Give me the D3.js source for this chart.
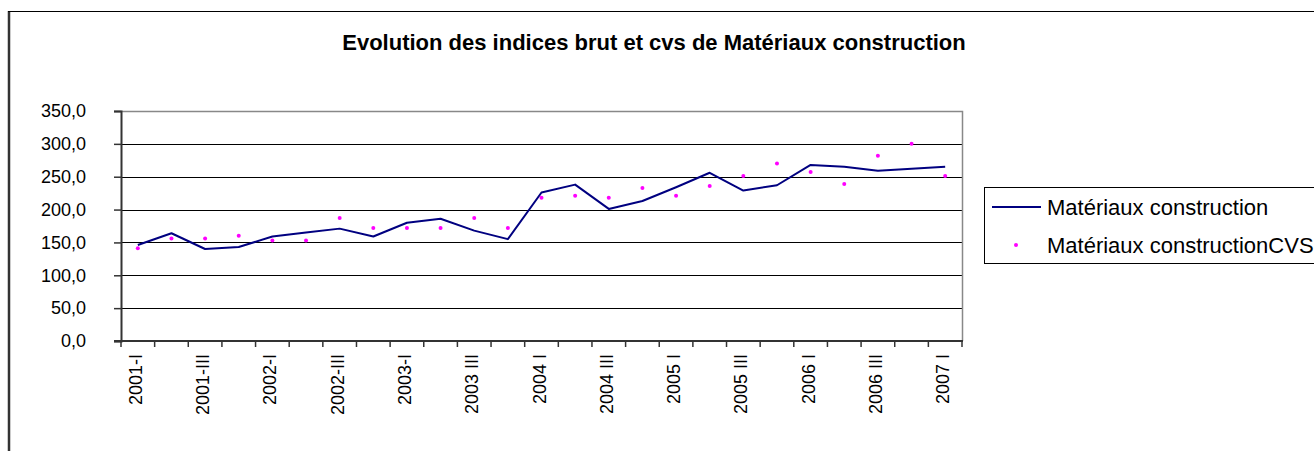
<!DOCTYPE html>
<html>
<head>
<meta charset="utf-8">
<script src="https://cdn.jsdelivr.net/npm/d3@7"></script>
<style>
  html, body { margin: 0; padding: 0; background: #fff; }
  svg { display: block; }
  text { font-family: "Liberation Sans", Arial, sans-serif; }
</style>
</head>
<body>
<svg id="chart" width="1314" height="451"></svg>
<script>
// ---- data ----
const categories = [
  "2001-I","2001-II","2001-III","2001-IV",
  "2002-I","2002-II","2002-III","2002-IV",
  "2003-I","2003 II","2003 III","2003 IV",
  "2004 I","2004 II","2004 III","2004 IV",
  "2005 I","2005 II","2005 III","2005 IV",
  "2006 I","2006 II","2006 III","2006 IV",
  "2007 I"
];
const brut = [146, 164, 140, 143, 159, 165, 171, 159, 180, 186, 168, 155,
              226, 238, 201, 213, 234, 256, 229, 237, 268, 265, 259, 262, 265];
const cvs  = [141, 156, 156, 160, 153, 153, 187, 172, 172, 172, 187, 172,
              218, 221, 218, 233, 221, 236, 251, 270, 257, 239, 282, 300, 251];
const yTicks = [0, 50, 100, 150, 200, 250, 300, 350];
const seriesNames = ["Matériaux construction", "Matériaux constructionCVS"];
const title = "Evolution des indices brut et cvs de Matériaux construction";

// ---- layout ----
const svg = d3.select("#chart");
const plot = { left: 121, right: 962, top: 111, bottom: 341 };

// outer chart frame
svg.append("line").attr("x1", 9).attr("x2", 9).attr("y1", 11).attr("y2", 451)
  .attr("stroke", "#333").attr("stroke-width", 2.5);
svg.append("line").attr("x1", 8).attr("x2", 1314).attr("y1", 11.5).attr("y2", 11.5)
  .attr("stroke", "#000").attr("stroke-width", 1);

svg.append("text").attr("x", 654).attr("y", 50).attr("text-anchor", "middle")
  .attr("font-weight", "bold").attr("font-size", 22).text(title);

const x = d3.scaleBand().domain(categories).range([plot.left, plot.right]).padding(0);
const y = d3.scaleLinear().domain([0, 350]).range([plot.bottom, plot.top]);

// gridlines
svg.append("g").selectAll("line").data(yTicks.filter(d => d > 0 && d < 350)).join("line")
  .attr("x1", plot.left).attr("x2", plot.right)
  .attr("y1", d => Math.round(y(d)) + 0.5).attr("y2", d => Math.round(y(d)) + 0.5)
  .attr("stroke", "#000").attr("stroke-width", 1);

// plot border top/right (gray)
svg.append("path")
  .attr("d", `M${plot.left},${plot.top + 0.5}H${plot.right + 0.5}V${plot.bottom}`)
  .attr("fill", "none").attr("stroke", "#888").attr("stroke-width", 1.5);

// y axis
const yAxis = d3.axisLeft(y).tickValues(yTicks).tickSize(7).tickPadding(28)
  .tickFormat(d => d3.format(".1f")(d).replace(".", ","));
const gy = svg.append("g").attr("transform", `translate(${plot.left},0)`).call(yAxis);
gy.select(".domain").attr("stroke", "#333").attr("stroke-width", 2);
gy.selectAll(".tick line").attr("stroke", "#333").attr("stroke-width", 1.5);
gy.selectAll(".tick text").attr("font-size", 18).attr("fill", "#000")
  .attr("font-family", "'Liberation Sans', Arial, sans-serif");

// x axis: ticks at band boundaries
const boundaries = d3.range(categories.length + 1).map(i => plot.left + i * x.bandwidth());
const gx = svg.append("g");
gx.append("line").attr("x1", plot.left - 7).attr("x2", plot.right + 1)
  .attr("y1", plot.bottom).attr("y2", plot.bottom)
  .attr("stroke", "#333").attr("stroke-width", 2);
gx.selectAll("line.tk").data(boundaries).join("line").attr("class", "tk")
  .attr("x1", d => d).attr("x2", d => d)
  .attr("y1", plot.bottom).attr("y2", plot.bottom + 6)
  .attr("stroke", "#333").attr("stroke-width", 1.5);
gx.selectAll("text").data(categories.filter((d, i) => i % 2 === 0)).join("text")
  .attr("transform", d => `translate(${x(d) + x.bandwidth() / 2 + 4},${plot.bottom + 13}) rotate(-90)`)
  .attr("text-anchor", "end").attr("font-size", 18).attr("fill", "#000")
  .text(d => d);

// brut line
const line = d3.line().x((d, i) => x(categories[i]) + x.bandwidth() / 2).y(d => y(d));
svg.append("path").datum(brut).attr("d", line)
  .attr("fill", "none").attr("stroke", "#000080").attr("stroke-width", 2)
  .attr("stroke-linejoin", "round");

// cvs dots
svg.append("g").selectAll("circle").data(cvs).join("circle")
  .attr("cx", (d, i) => x(categories[i]) + x.bandwidth() / 2)
  .attr("cy", d => y(d)).attr("r", 2).attr("fill", "#FF00FF");

// legend
const lg = svg.append("g");
lg.append("rect").attr("x", 984.5).attr("y", 187.5).attr("width", 340).attr("height", 76)
  .attr("fill", "#fff").attr("stroke", "#000").attr("stroke-width", 1);
lg.append("line").attr("x1", 992).attr("x2", 1041).attr("y1", 207).attr("y2", 207)
  .attr("stroke", "#000080").attr("stroke-width", 2);
lg.append("circle").attr("cx", 1016).attr("cy", 245).attr("r", 2).attr("fill", "#FF00FF");
lg.append("text").attr("x", 1047).attr("y", 215).attr("font-size", 22).text(seriesNames[0]);
lg.append("text").attr("x", 1047).attr("y", 253).attr("font-size", 22).text(seriesNames[1]);
</script>
</body>
</html>
